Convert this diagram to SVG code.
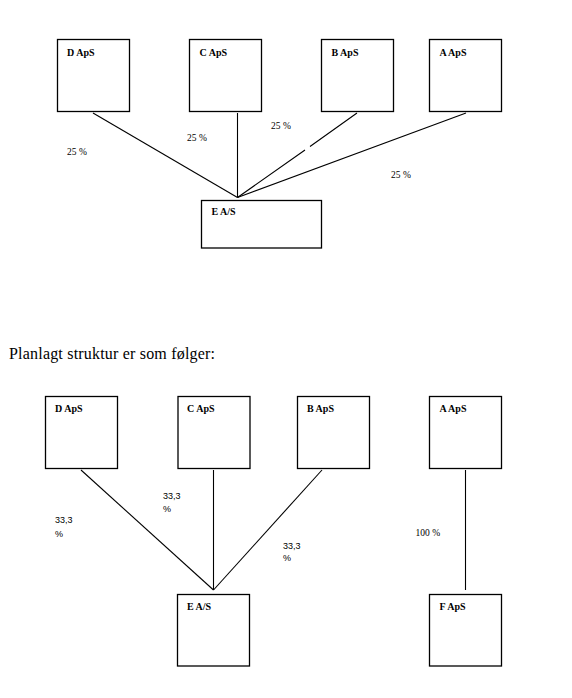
<svg xmlns="http://www.w3.org/2000/svg" width="572" height="698" viewBox="0 0 572 698">
<style>
.box{fill:#fff;stroke:#000;stroke-width:1.3}
.t{font-family:"Liberation Serif","Times New Roman",serif;font-size:10px;font-weight:bold;fill:#000}
.l{font-family:"Liberation Serif","Times New Roman",serif;font-size:9.5px;fill:#000}
.s{font-family:"Liberation Sans",sans-serif;font-size:9px;fill:#000}
.h{font-family:"Liberation Serif","Times New Roman",serif;font-size:16px;fill:#000}
.c{stroke:#000;stroke-width:1.1;fill:none}
</style>
<rect width="572" height="698" fill="#fff"/>
<g id="connectors">
<line class="c" x1="93" y1="113" x2="237.5" y2="197.5"/>
<line class="c" x1="237.5" y1="113" x2="237.5" y2="197.5"/>
<path class="c" d="M357 113 L310 146.5 M305 150 L237.5 197.5"/>
<line class="c" x1="466" y1="113" x2="237.5" y2="197.5"/>
<line class="c" x1="81" y1="470" x2="213.5" y2="590"/>
<line class="c" x1="213.5" y1="470" x2="213.5" y2="590"/>
<line class="c" x1="322" y1="470" x2="213.5" y2="590"/>
<line class="c" x1="465.5" y1="470" x2="465.5" y2="590"/>
</g>
<g id="labels">
<text class="l" x="67" y="155">25 %</text>
<text class="l" x="187" y="141">25 %</text>
<text class="l" x="271" y="129">25 %</text>
<text class="l" x="391" y="178">25 %</text>
<text class="h" x="9" y="359" textLength="206" lengthAdjust="spacing">Planlagt struktur er som følger:</text>
<text class="s" x="55" y="523">33,3</text>
<text class="s" x="55" y="537">%</text>
<text class="s" x="163" y="499">33,3</text>
<text class="s" x="163" y="512">%</text>
<text class="s" x="283" y="549">33,3</text>
<text class="s" x="283" y="561">%</text>
<text class="l" x="415.5" y="536">100 %</text>
</g>
<g id="top-D"><rect class="box" x="57.5" y="39.5" width="72" height="72"/><text class="t" x="67" y="56">D ApS</text></g>
<g id="top-C"><rect class="box" x="189.5" y="39.5" width="72" height="72"/><text class="t" x="199.5" y="56">C ApS</text></g>
<g id="top-B"><rect class="box" x="321.5" y="39.5" width="72" height="72"/><text class="t" x="331.5" y="56">B ApS</text></g>
<g id="top-A"><rect class="box" x="429.5" y="39.5" width="72" height="72"/><text class="t" x="439.5" y="56">A ApS</text></g>
<g id="top-E"><rect class="box" x="201.5" y="200.5" width="120" height="47.5"/><text class="t" x="211.5" y="215">E A/S</text></g>
<g id="bot-D"><rect class="box" x="45.5" y="396.5" width="72" height="72"/><text class="t" x="55" y="412">D ApS</text></g>
<g id="bot-C"><rect class="box" x="178" y="396.5" width="72" height="72"/><text class="t" x="187" y="412">C ApS</text></g>
<g id="bot-B"><rect class="box" x="297.5" y="396.5" width="72" height="72"/><text class="t" x="307" y="412">B ApS</text></g>
<g id="bot-A"><rect class="box" x="429.5" y="396.5" width="72" height="72"/><text class="t" x="439.5" y="412">A ApS</text></g>
<g id="bot-E"><rect class="box" x="177.5" y="594.5" width="72" height="71.5"/><text class="t" x="187" y="610">E A/S</text></g>
<g id="bot-F"><rect class="box" x="429.5" y="594.5" width="72" height="71.5"/><text class="t" x="439.5" y="610">F ApS</text></g>
</svg>
